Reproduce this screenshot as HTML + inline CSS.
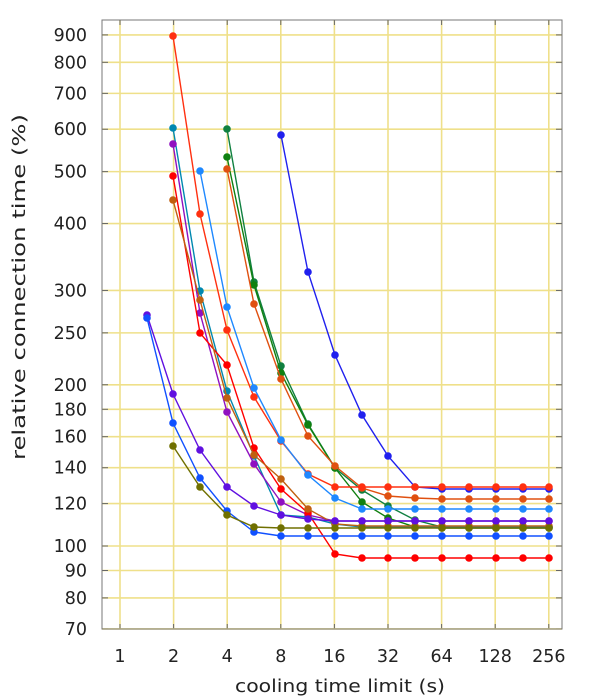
<!DOCTYPE html>
<html><head><meta charset="utf-8"><style>body{margin:0;background:#fff}svg{display:block}text{font-family:"DejaVu Sans","Liberation Sans",sans-serif;font-size:17.5px;fill:#222}</style></head>
<body>
<svg id="s" width="600" height="700" xmlns="http://www.w3.org/2000/svg"></svg>
<script>
const s=document.getElementById('s');let h='';
const L=102,R=562,T=20,B=629;
const yv=v=>546-535.6*Math.log10(v/100);
const xt=[1,2,4,8,16,32,64,128,256];
const yt=[900,800,700,600,500,400,300,250,200,180,160,140,120,100,90,80,70];
xt.forEach((v,i)=>{const x=120+53.6*i;h+=`<line x1="${x}" y1="${T}" x2="${x}" y2="${B}" stroke="#efe08a" stroke-width="1.6"/><line x1="${x}" y1="${B}" x2="${x}" y2="${B-5}" stroke="#666"/><line x1="${x}" y1="${T}" x2="${x}" y2="${T+5}" stroke="#666"/><text x="${x}" y="662" text-anchor="middle">${v}</text>`;});
yt.forEach(v=>{const y=yv(v);h+=`<line x1="${L}" y1="${y}" x2="${R}" y2="${y}" stroke="#efe08a" stroke-width="1.6"/><line x1="${L}" y1="${y}" x2="${L+6}" y2="${y}" stroke="#666"/><line x1="${R}" y1="${y}" x2="${R-6}" y2="${y}" stroke="#666"/><text x="87" y="${y+6}" text-anchor="end">${v}</text>`;});
h+=`<rect x="${L}" y="${T}" width="${R-L}" height="${B-T}" fill="none" stroke="#777"/>`;
const xs=[147,173,200,227,254,281,308,335,362,388,415,442,469,496,523,549];
const fill=(a,n)=>{while(a.length<n)a.push(a[a.length-1]);return a};
const S=[
['#2020ee',5,[135,272,355,415,456,487,489]],
['#108040',3,[129,282,366,424,468,490,506,520,527]],
['#108010',3,[157,285,373,425,468,502,518,527,528]],
['#e05010',3,[169,304,379,436,466,488,496,498,499]],
['#ff3010',1,[36,214,330,397,441,474,487]],
['#1e88ff',2,[171,307,388,440,475,498,509]],
['#0088b0',1,[128,291,391,456,515,517,524,527]],
['#9010c0',1,[144,313,412,464,502,515,521]],
['#ff0000',1,[176,333,365,448,489,513,554,558]],
['#c06010',1,[200,300,398,455,479,509,524,526]],
['#6010e0',0,[315,394,450,487,506,515,519,521]],
['#1050ff',0,[318,423,478,511,532,536]],
['#707000',1,[446,487,515,527,528]]];
S.forEach(([c,st,ys])=>{ys=fill(ys.slice(),16-st);let p=ys.map((y,i)=>xs[st+i]+','+y).join(' ');
h+=`<polyline points="${p}" fill="none" stroke="${c}" stroke-width="1.4"/>`;
ys.forEach((y,i)=>h+=`<circle cx="${xs[st+i]}" cy="${y}" r="3.8" fill="${c}"/>`);});
h+=`<text x="340" y="692" text-anchor="middle" font-size="18" textLength="210" lengthAdjust="spacingAndGlyphs">cooling time limit (s)</text>`;
h+=`<text transform="translate(25,287) rotate(-90)" text-anchor="middle" font-size="18" textLength="346" lengthAdjust="spacingAndGlyphs">relative connection time (%)</text>`;
s.innerHTML=h;
</script>
</body></html>
